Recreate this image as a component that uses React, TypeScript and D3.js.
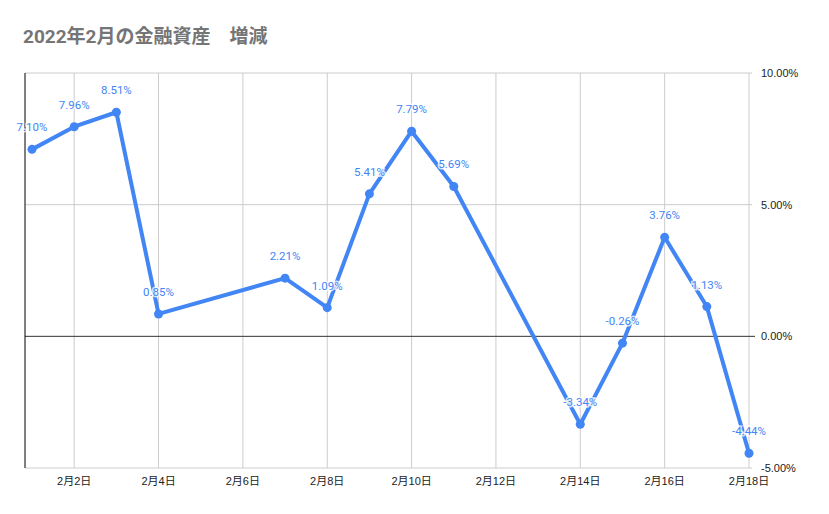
import { useEffect, useRef } from "react";
import * as d3 from "d3";

// 2022年2月 の日付（日）と増減率（%）
const days = [ 1, 2, 3, 4, 7, 8, 9, 10, 11, 14, 15, 16, 17, 18 ];
const changes = [ 7.10, 7.96, 8.51, 0.85, 2.21, 1.09, 5.41, 7.79, 5.69, -3.34, -0.26, 3.76, 1.13, -4.44 ];
const yTicks = [ -5, 0, 5, 10 ];
const xTickDays = [ 2, 4, 6, 8, 10, 12, 14, 16, 18 ];

const TITLE = "2022年2月の金融資産　増減";
const BLUE = "#4285f4";
const FONT = "'Liberation Sans', Arial, 'Noto Sans CJK JP', sans-serif";
const ROBOTO = "Roboto, 'Noto Sans CJK JP', sans-serif";

export default function App ()
{
    const svgRef = useRef<SVGSVGElement>( null );

    useEffect( () =>
    {
        if ( !svgRef.current ) return;
        const svg = d3.select( svgRef.current );
        svg.selectAll( "*" ).remove();

        const W = 829, H = 514;
        const left = 25, right = 749, top = 73, bottom = 468;
        const date = ( d: number ) => new Date( 2022, 1, d );

        const x = d3.scaleTime().domain( [ date( 1 ), date( 18 ) ] ).range( [ 32, right ] );
        const y = d3.scaleLinear().domain( [ -5, 10 ] ).range( [ bottom, top ] );

        svg.attr( "width", W ).attr( "height", H );
        svg.append( "rect" ).attr( "width", W ).attr( "height", H ).attr( "fill", "#fff" );

        svg.append( "text" ).attr( "x", 23 ).attr( "y", 43 )
            .attr( "fill", "#757575" ).style( "font-size", "19px" ).style( "font-weight", "bold" )
            .style( "font-family", ROBOTO ).text( TITLE );

        // grid
        svg.append( "g" ).selectAll( "line" ).data( xTickDays ).join( "line" )
            .attr( "x1", ( d ) => x( date( d ) ) ).attr( "x2", ( d ) => x( date( d ) ) )
            .attr( "y1", top ).attr( "y2", bottom )
            .attr( "stroke", "#cccccc" ).attr( "stroke-width", 1 );

        svg.append( "g" ).selectAll( "line" ).data( yTicks.filter( ( t ) => t !== 0 ) ).join( "line" )
            .attr( "x1", left ).attr( "x2", right + 3 )
            .attr( "y1", ( d ) => y( d ) ).attr( "y2", ( d ) => y( d ) )
            .attr( "stroke", "#cccccc" ).attr( "stroke-width", 1 );

        svg.append( "line" ).attr( "x1", left ).attr( "x2", right + 6 )
            .attr( "y1", y( 0 ) ).attr( "y2", y( 0 ) ).attr( "stroke", "#333" ).attr( "stroke-width", 1 );
        svg.append( "line" ).attr( "x1", left ).attr( "x2", left )
            .attr( "y1", top ).attr( "y2", bottom ).attr( "stroke", "#000" ).attr( "stroke-width", 1 );

        // axes labels
        svg.append( "g" ).selectAll( "text" ).data( yTicks ).join( "text" )
            .attr( "x", 761 ).attr( "y", ( d ) => y( d ) + 4 )
            .attr( "fill", "#222" ).style( "font-size", "11px" ).style( "font-family", FONT )
            .text( ( d ) => d.toFixed( 2 ) + "%" );

        svg.append( "g" ).selectAll( "text" ).data( xTickDays ).join( "text" )
            .attr( "x", ( d ) => x( date( d ) ) ).attr( "y", 485 ).attr( "text-anchor", "middle" )
            .attr( "fill", "#222" ).style( "font-size", "11px" ).style( "font-family", FONT )
            .text( ( d ) => `2月${ d }日` );

        // series
        const pts = days.map( ( d, i ) => ( { day: d, v: changes[ i ] } ) );
        const line = d3.line<{ day: number; v: number }>()
            .x( ( p ) => x( date( p.day ) ) ).y( ( p ) => y( p.v ) );

        svg.append( "path" ).datum( pts ).attr( "d", line )
            .attr( "fill", "none" ).attr( "stroke", BLUE ).attr( "stroke-width", 4 )
            .attr( "stroke-linejoin", "round" );

        svg.append( "g" ).selectAll( "circle" ).data( pts ).join( "circle" )
            .attr( "cx", ( p ) => x( date( p.day ) ) ).attr( "cy", ( p ) => y( p.v ) )
            .attr( "r", 4.5 ).attr( "fill", BLUE );

        svg.append( "g" ).selectAll( "text" ).data( pts ).join( "text" )
            .attr( "x", ( p ) => x( date( p.day ) ) ).attr( "y", ( p ) => y( p.v ) - 18 )
            .attr( "text-anchor", "middle" ).attr( "fill", BLUE )
            .attr( "stroke", "#fff" ).attr( "stroke-width", 3 ).attr( "stroke-opacity", 0.8 )
            .style( "paint-order", "stroke" )
            .style( "font-size", "11.5px" ).style( "font-family", ROBOTO )
            .text( ( p ) => p.v.toFixed( 2 ) + "%" );
    }, [] );

    return (
        <div style={ { position: "absolute", left: 0, top: 0 } }>
            <svg ref={ svgRef } style={ { display: "block" } } />
        </div>
    );
}
